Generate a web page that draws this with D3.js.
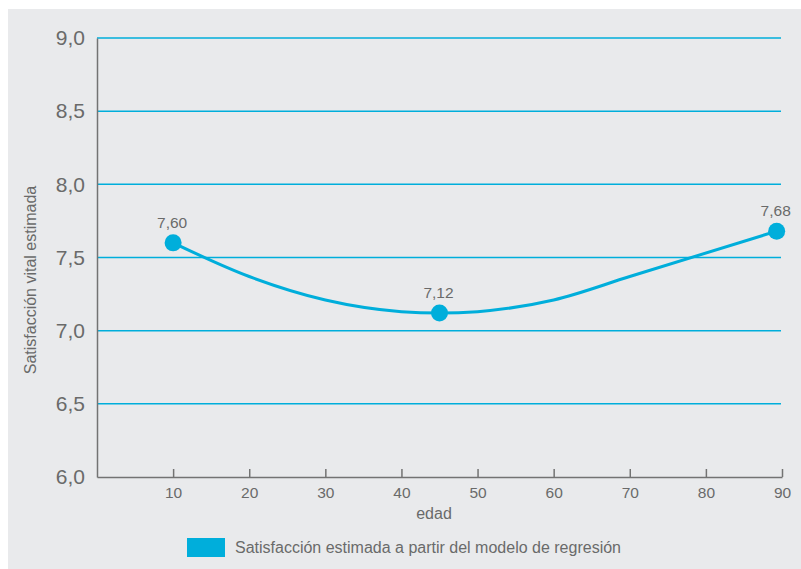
<!DOCTYPE html>
<html>
<head>
<meta charset="utf-8">
<script src="https://cdn.jsdelivr.net/npm/d3@7"></script>
<style>
  html, body { margin: 0; padding: 0; background: #ffffff; }
  svg { display: block; }
  text { font-family: "Liberation Sans", Arial, Helvetica, sans-serif; fill: #6a6a6a; }
</style>
</head>
<body>
<svg id="chart" width="801" height="569"></svg>
<script>
// Estimated life satisfaction by age (regression model)
const pointAges = [10, 45, 89.3];
const pointValues = [7.60, 7.12, 7.68];

// Regression curve samples
const curveAges = [10, 20, 30, 40, 45, 50, 60, 70, 89.3];
const curveValues = [7.60, 7.37, 7.21, 7.13, 7.12, 7.13, 7.21, 7.37, 7.68];

const yTicks = [6.0, 6.5, 7.0, 7.5, 8.0, 8.5, 9.0];
const xTicks = [10, 20, 30, 40, 50, 60, 70, 80, 90];

const xTitle = "edad";
const yTitle = "Satisfacción vital estimada";
const legendLabel = "Satisfacción estimada a partir del modelo de regresión";

const cyan = "#00aedb";
const axisGray = "#737373";
const fmt = v => d3.format(".2f")(v).replace(".", ",");
const fmtTick = v => d3.format(".1f")(v).replace(".", ",");

const svg = d3.select("#chart");

// panel background
svg.append("rect")
  .attr("x", 8).attr("y", 9).attr("width", 793).attr("height", 560)
  .attr("fill", "#e9eaec");

const x = d3.scaleLinear().domain([0, 90]).range([97, 782]);
const y = d3.scaleLinear().domain([6, 9]).range([477, 38]);

// horizontal gridlines
svg.append("g").selectAll("line")
  .data(yTicks.filter(d => d > 6))
  .join("line")
  .attr("x1", x(0)).attr("x2", 781)
  .attr("y1", d => y(d)).attr("y2", d => y(d))
  .attr("stroke", cyan).attr("stroke-width", 1.5);

// y axis
const yAxis = svg.append("g")
  .attr("transform", `translate(${x(0)},0)`)
  .call(d3.axisLeft(y).tickValues(yTicks).tickFormat(fmtTick).tickSize(0).tickPadding(12));
yAxis.select(".domain").attr("stroke", axisGray).attr("stroke-width", 1.5);
yAxis.selectAll("text")
  .style("font-size", "21px")
  .style("font-family", '"Liberation Sans", Arial, sans-serif')
  .attr("fill", "#6a6a6a");

// x axis (ticks pointing up)
const xAxis = svg.append("g")
  .attr("transform", `translate(0,${y(6)})`)
  .call(d3.axisBottom(x).tickValues(xTicks).tickSizeInner(-8).tickSizeOuter(0).tickPadding(10));
xAxis.select(".domain").attr("stroke", axisGray).attr("stroke-width", 1.5);
xAxis.selectAll(".tick line").attr("stroke", axisGray).attr("stroke-width", 1.5);
xAxis.selectAll("text")
  .style("font-size", "15.5px")
  .style("font-family", '"Liberation Sans", Arial, sans-serif')
  .attr("fill", "#6a6a6a");

// axis titles
svg.append("text")
  .attr("x", 434).attr("y", 519)
  .attr("text-anchor", "middle")
  .style("font-size", "16px")
  .text(xTitle);

svg.append("text")
  .attr("transform", "translate(36,280) rotate(-90)")
  .attr("text-anchor", "middle")
  .style("font-size", "16px")
  .text(yTitle);

// regression curve
const curveData = curveAges.map((a, i) => [a, curveValues[i]]);
svg.append("path")
  .datum(curveData)
  .attr("fill", "none")
  .attr("stroke", cyan)
  .attr("stroke-width", 3)
  .attr("d", d3.line().x(d => x(d[0])).y(d => y(d[1])).curve(d3.curveMonotoneX));

// markers
const pts = pointAges.map((a, i) => ({ age: a, value: pointValues[i] }));
svg.append("g").selectAll("circle")
  .data(pts)
  .join("circle")
  .attr("cx", d => x(d.age))
  .attr("cy", d => y(d.value))
  .attr("r", 8.5)
  .attr("fill", cyan);

// value labels
svg.append("g").selectAll("text")
  .data(pts)
  .join("text")
  .attr("x", d => x(d.age) - 1)
  .attr("y", d => y(d.value) - 15)
  .attr("text-anchor", "middle")
  .style("font-size", "15.5px")
  .text(d => fmt(d.value));

// legend
svg.append("rect")
  .attr("x", 187).attr("y", 538).attr("width", 38).attr("height", 19)
  .attr("fill", cyan);
svg.append("text")
  .attr("x", 235).attr("y", 553)
  .style("font-size", "16px")
  .text(legendLabel);
</script>
</body>
</html>
